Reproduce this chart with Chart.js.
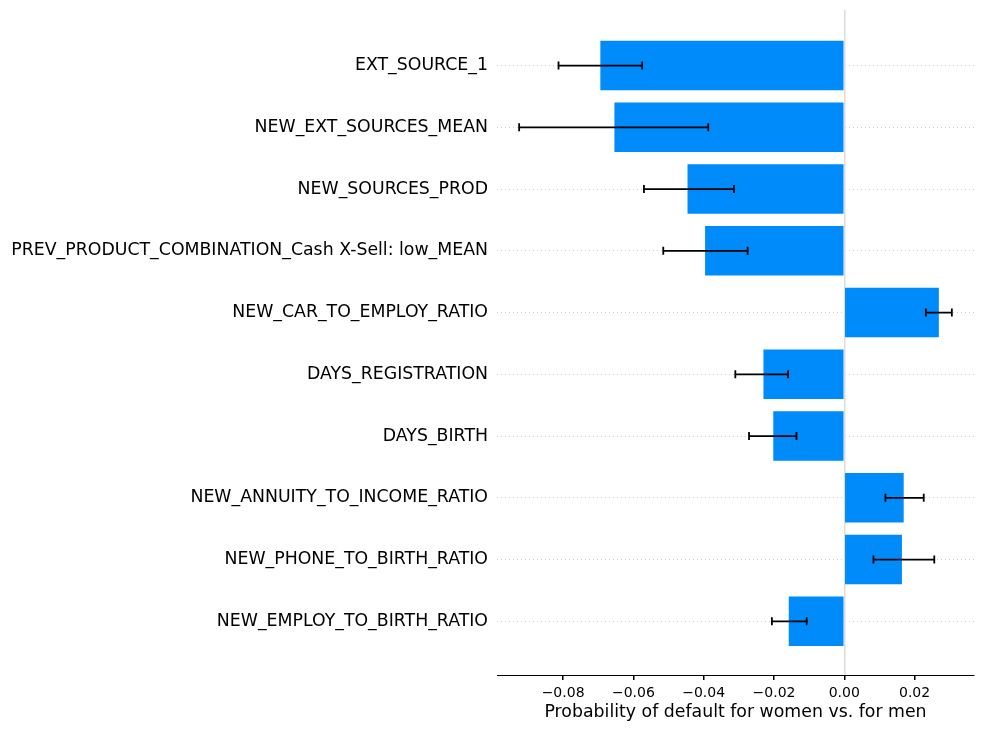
<!DOCTYPE html>
<html>
<head>
<meta charset="utf-8">
<script src="https://cdn.jsdelivr.net/npm/chart.js@4.4.1/dist/chart.umd.min.js"></script>
<style>
  html, body { margin: 0; padding: 0; background: #fff; }
  #wrap { width: 984px; height: 732px; }
</style>
</head>
<body>
<div id="wrap"><canvas id="chart" width="984" height="732"></canvas></div>
<script>
const features = [
    'EXT_SOURCE_1',
    'NEW_EXT_SOURCES_MEAN',
    'NEW_SOURCES_PROD',
    'PREV_PRODUCT_COMBINATION_Cash X-Sell: low_MEAN',
    'NEW_CAR_TO_EMPLOY_RATIO',
    'DAYS_REGISTRATION',
    'DAYS_BIRTH',
    'NEW_ANNUITY_TO_INCOME_RATIO',
    'NEW_PHONE_TO_BIRTH_RATIO',
    'NEW_EMPLOY_TO_BIRTH_RATIO'
];
const meanDiff = [-0.0694, -0.0654, -0.0446, -0.0396, 0.0269, -0.0230, -0.0202, 0.0169, 0.0164, -0.0158];
const errLow   = [-0.0813, -0.0925, -0.0570, -0.0515, 0.0232, -0.0310, -0.0271, 0.0117, 0.0083, -0.0206];
const errHigh  = [-0.0575, -0.0387, -0.0314, -0.0275, 0.0306, -0.0160, -0.0136, 0.0226, 0.0256, -0.0107];
const xTicks = [-0.08, -0.06, -0.04, -0.02, 0.00, 0.02];

const FONT = "'DejaVu Sans', sans-serif";

// error bars drawn on top of the bars, positioned by the chart's own scales
const errorBars = {
    id: 'errorBars',
    afterDatasetsDraw(chart) {
        const { ctx, scales: { x, y } } = chart;
        ctx.save();
        ctx.strokeStyle = '#000';
        ctx.lineWidth = 1.8;
        meanDiff.forEach((_, i) => {
            const py = y.getPixelForValue(i);
            const x0 = x.getPixelForValue(errLow[i]);
            const x1 = x.getPixelForValue(errHigh[i]);
            ctx.beginPath();
            ctx.moveTo(x0, py); ctx.lineTo(x1, py);
            ctx.moveTo(x0, py - 4); ctx.lineTo(x0, py + 4);
            ctx.moveTo(x1, py - 4); ctx.lineTo(x1, py + 4);
            ctx.stroke();
        });
        ctx.restore();
    }
};

new Chart(document.getElementById('chart'), {
    type: 'bar',
    data: {
        datasets: [{
            data: meanDiff.map((v, i) => ({ x: v, y: i })),
            backgroundColor: '#008bfb',
            borderWidth: 0,
            barPercentage: 0.8,
            categoryPercentage: 1.0
        }]
    },
    options: {
        indexAxis: 'y',
        responsive: false,
        animation: false,
        devicePixelRatio: 1,
        layout: { padding: { top: 10, right: 10, left: 0, bottom: 0 } },
        plugins: { legend: { display: false }, tooltip: { enabled: false } },
        scales: {
            y: {
                type: 'linear',
                reverse: true,
                offset: false,
                min: -0.9,
                max: 9.87,
                afterBuildTicks: (scale) => { scale.ticks = features.map((_, i) => ({ value: i })); },
                afterFit: (scale) => {
                    scale.width = 497;
                    scale.paddingTop = 0;
                    scale.paddingBottom = 0;
                },
                ticks: {
                    callback: (v) => features[v],
                    color: '#000',
                    font: { family: FONT, size: 17.33 },
                    padding: 9
                },
                grid: {
                    offset: false,
                    color: '#cfcfcf',
                    lineWidth: 1,
                    drawTicks: false
                },
                border: { display: false, dash: [1, 3] }
            },
            x: {
                min: -0.0988,
                max: 0.0369,
                afterBuildTicks: (scale) => { scale.ticks = xTicks.map(v => ({ value: v })); },
                afterFit: (scale) => { scale.height = 57; },
                ticks: {
                    callback: (v) => v.toFixed(2).replace('-', '\u2212'),
                    color: '#000',
                    font: { family: FONT, size: 14 },
                    padding: 5
                },
                grid: {
                    color: (c) => (c.tick && c.tick.value === 0 ? '#dcdcdc' : 'rgba(0,0,0,0)'),
                    lineWidth: 1.5,
                    tickColor: '#000',
                    tickLength: 5,
                    drawOnChartArea: true
                },
                border: { display: true, color: '#000', width: 1 },
                title: {
                    display: true,
                    text: 'Probability of default for women vs. for men',
                    color: '#000',
                    font: { family: FONT, size: 17.33 },
                    padding: { top: 0, bottom: 9 }
                }
            }
        }
    },
    plugins: [errorBars]
});
</script>
</body>
</html>
